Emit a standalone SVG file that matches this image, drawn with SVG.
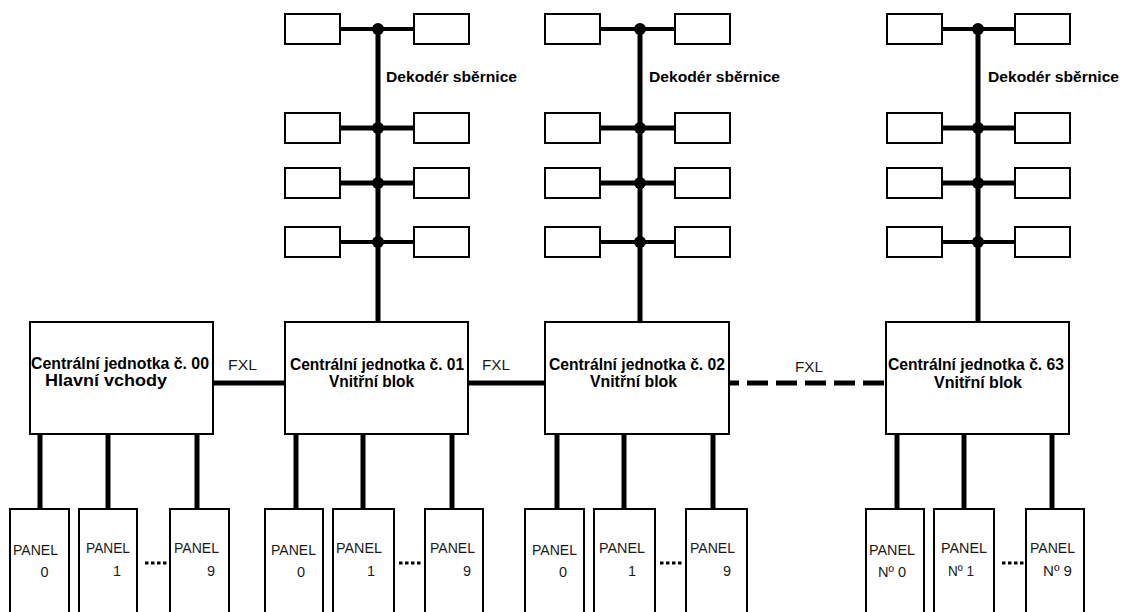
<svg xmlns="http://www.w3.org/2000/svg" width="1123" height="612" viewBox="0 0 1123 612">
<style>
.box{fill:#fff;stroke:#000;stroke-width:2}
.bus{stroke:#000;stroke-width:5;fill:none}
.br{stroke:#000;stroke-width:4;fill:none}
.dot{fill:#000}
.dots{stroke:#000;stroke-width:3;stroke-dasharray:3.5 2.5;fill:none}
.bold{font-family:"Liberation Sans",Arial,sans-serif;font-weight:bold;fill:#000}
.reg{font-family:"Liberation Sans",Arial,sans-serif;fill:#1a1a1a}
.ct{font-size:16px}
.dk{font-size:14.5px}
.pn{font-size:14.5px}
.fx{font-size:15px}
</style>
<rect width="1123" height="612" fill="#fff"/>
<g id="connectors">
  <line class="bus" x1="378" y1="29" x2="378" y2="322"/>
  <line class="bus" x1="640" y1="29" x2="640" y2="322"/>
  <line class="bus" x1="978" y1="29" x2="978" y2="322"/>
  <line class="br" x1="340" y1="29" x2="414" y2="29"/>
  <line class="bus" x1="340" y1="128" x2="414" y2="128"/>
  <line class="bus" x1="340" y1="183" x2="414" y2="183"/>
  <line class="br" x1="340" y1="242" x2="414" y2="242"/>
  <line class="br" x1="600" y1="29" x2="675" y2="29"/>
  <line class="bus" x1="600" y1="128" x2="675" y2="128"/>
  <line class="bus" x1="600" y1="183" x2="675" y2="183"/>
  <line class="br" x1="600" y1="242" x2="675" y2="242"/>
  <line class="br" x1="942" y1="29" x2="1015" y2="29"/>
  <line class="bus" x1="942" y1="128" x2="1015" y2="128"/>
  <line class="bus" x1="942" y1="183" x2="1015" y2="183"/>
  <line class="br" x1="942" y1="242" x2="1015" y2="242"/>
  <circle class="dot" cx="378" cy="29" r="6"/><circle class="dot" cx="378" cy="128" r="6"/><circle class="dot" cx="378" cy="183" r="6"/><circle class="dot" cx="378" cy="242" r="6"/>
  <circle class="dot" cx="640" cy="29" r="6"/><circle class="dot" cx="640" cy="128" r="6"/><circle class="dot" cx="640" cy="183" r="6"/><circle class="dot" cx="640" cy="242" r="6"/>
  <circle class="dot" cx="978" cy="29" r="6"/><circle class="dot" cx="978" cy="128" r="6"/><circle class="dot" cx="978" cy="183" r="6"/><circle class="dot" cx="978" cy="242" r="6"/>
  <line class="bus" x1="213" y1="383" x2="285" y2="383"/>
  <line class="bus" x1="468" y1="383" x2="545" y2="383"/>
  <line class="bus" x1="729" y1="383" x2="886" y2="383" stroke-dasharray="21 8" stroke-dashoffset="11"/>
  <line class="bus" x1="40" y1="434" x2="40" y2="509"/>
  <line class="bus" x1="108" y1="434" x2="108" y2="509"/>
  <line class="bus" x1="197" y1="434" x2="197" y2="509"/>
  <line class="bus" x1="296" y1="434" x2="296" y2="509"/>
  <line class="bus" x1="363" y1="434" x2="363" y2="509"/>
  <line class="bus" x1="452" y1="434" x2="452" y2="509"/>
  <line class="bus" x1="557" y1="434" x2="557" y2="509"/>
  <line class="bus" x1="624" y1="434" x2="624" y2="509"/>
  <line class="bus" x1="713" y1="434" x2="713" y2="509"/>
  <line class="bus" x1="897" y1="434" x2="897" y2="509"/>
  <line class="bus" x1="964" y1="434" x2="964" y2="509"/>
  <line class="bus" x1="1052" y1="434" x2="1052" y2="509"/>
  <line class="dots" x1="145" y1="563" x2="167" y2="563"/>
  <line class="dots" x1="399" y1="563" x2="421" y2="563"/>
  <line class="dots" x1="660" y1="563" x2="682" y2="563"/>
  <line class="dots" x1="1002" y1="563" x2="1024" y2="563"/>
</g>
<g id="fxl-labels">
  <text class="reg fx" x="228" y="370" textLength="29" lengthAdjust="spacingAndGlyphs">FXL</text>
  <text class="reg fx" x="482" y="370" textLength="28" lengthAdjust="spacingAndGlyphs">FXL</text>
  <text class="reg fx" x="795" y="372" textLength="28" lengthAdjust="spacingAndGlyphs">FXL</text>
</g>
<g id="decoder1">
  <rect class="box" x="285" y="14" width="55" height="30"/><rect class="box" x="414" y="14" width="55" height="30"/>
  <rect class="box" x="285" y="113" width="55" height="30"/><rect class="box" x="414" y="113" width="55" height="30"/>
  <rect class="box" x="285" y="168" width="55" height="30"/><rect class="box" x="414" y="168" width="55" height="30"/>
  <rect class="box" x="285" y="227" width="55" height="30"/><rect class="box" x="414" y="227" width="55" height="30"/>
  <text class="bold dk" x="386" y="82" textLength="131" lengthAdjust="spacingAndGlyphs">Dekodér sběrnice</text>
</g>
<g id="decoder2">
  <rect class="box" x="545" y="14" width="55" height="30"/><rect class="box" x="675" y="14" width="55" height="30"/>
  <rect class="box" x="545" y="113" width="55" height="30"/><rect class="box" x="675" y="113" width="55" height="30"/>
  <rect class="box" x="545" y="168" width="55" height="30"/><rect class="box" x="675" y="168" width="55" height="30"/>
  <rect class="box" x="545" y="227" width="55" height="30"/><rect class="box" x="675" y="227" width="55" height="30"/>
  <text class="bold dk" x="649" y="82" textLength="131" lengthAdjust="spacingAndGlyphs">Dekodér sběrnice</text>
</g>
<g id="decoder3">
  <rect class="box" x="887" y="14" width="55" height="30"/><rect class="box" x="1015" y="14" width="55" height="30"/>
  <rect class="box" x="887" y="113" width="55" height="30"/><rect class="box" x="1015" y="113" width="55" height="30"/>
  <rect class="box" x="887" y="168" width="55" height="30"/><rect class="box" x="1015" y="168" width="55" height="30"/>
  <rect class="box" x="887" y="227" width="55" height="30"/><rect class="box" x="1015" y="227" width="55" height="30"/>
  <text class="bold dk" x="988" y="82" textLength="131" lengthAdjust="spacingAndGlyphs">Dekodér sběrnice</text>
</g>
<g id="central00">
  <rect class="box" x="30" y="322" width="183" height="112"/>
  <text class="bold ct" x="31" y="369" textLength="178" lengthAdjust="spacingAndGlyphs">Centrální jednotka č. 00</text>
  <text class="bold ct" x="45" y="386" textLength="122" lengthAdjust="spacingAndGlyphs">Hlavní vchody</text>
</g>
<g id="central01">
  <rect class="box" x="285" y="322" width="183" height="112"/>
  <text class="bold ct" x="290" y="370" textLength="174" lengthAdjust="spacingAndGlyphs">Centrální jednotka č. 01</text>
  <text class="bold ct" x="329" y="387" textLength="85" lengthAdjust="spacingAndGlyphs">Vnitřní blok</text>
</g>
<g id="central02">
  <rect class="box" x="545" y="322" width="184" height="112"/>
  <text class="bold ct" x="549" y="370" textLength="176" lengthAdjust="spacingAndGlyphs">Centrální jednotka č. 02</text>
  <text class="bold ct" x="590" y="387" textLength="87" lengthAdjust="spacingAndGlyphs">Vnitřní blok</text>
</g>
<g id="central63">
  <rect class="box" x="886" y="322" width="183" height="112"/>
  <text class="bold ct" x="888" y="370" textLength="176" lengthAdjust="spacingAndGlyphs">Centrální jednotka č. 63</text>
  <text class="bold ct" x="934" y="388" textLength="88" lengthAdjust="spacingAndGlyphs">Vnitřní blok</text>
</g>
<g id="panel00-0"><rect class="box" x="10" y="509" width="59" height="115"/><text class="reg pn" x="13" y="555" textLength="45" lengthAdjust="spacingAndGlyphs">PANEL</text><text class="reg pn" x="44.5" y="577" text-anchor="middle">0</text></g>
<g id="panel00-1"><rect class="box" x="79" y="509" width="58" height="115"/><text class="reg pn" x="86" y="553" textLength="44" lengthAdjust="spacingAndGlyphs">PANEL</text><text class="reg pn" x="117" y="576" text-anchor="middle">1</text></g>
<g id="panel00-9"><rect class="box" x="170" y="509" width="59" height="115"/><text class="reg pn" x="174" y="553" textLength="45" lengthAdjust="spacingAndGlyphs">PANEL</text><text class="reg pn" x="211" y="576" text-anchor="middle">9</text></g>
<g id="panel01-0"><rect class="box" x="265" y="509" width="58" height="115"/><text class="reg pn" x="271" y="555" textLength="45" lengthAdjust="spacingAndGlyphs">PANEL</text><text class="reg pn" x="301" y="577" text-anchor="middle">0</text></g>
<g id="panel01-1"><rect class="box" x="333" y="509" width="61" height="115"/><text class="reg pn" x="336" y="553" textLength="46" lengthAdjust="spacingAndGlyphs">PANEL</text><text class="reg pn" x="371" y="576" text-anchor="middle">1</text></g>
<g id="panel01-9"><rect class="box" x="425" y="509" width="58" height="115"/><text class="reg pn" x="430" y="553" textLength="45" lengthAdjust="spacingAndGlyphs">PANEL</text><text class="reg pn" x="467" y="576" text-anchor="middle">9</text></g>
<g id="panel02-0"><rect class="box" x="525" y="509" width="59" height="115"/><text class="reg pn" x="532" y="555" textLength="45" lengthAdjust="spacingAndGlyphs">PANEL</text><text class="reg pn" x="563" y="577" text-anchor="middle">0</text></g>
<g id="panel02-1"><rect class="box" x="594" y="509" width="61" height="115"/><text class="reg pn" x="599" y="553" textLength="46" lengthAdjust="spacingAndGlyphs">PANEL</text><text class="reg pn" x="632" y="576" text-anchor="middle">1</text></g>
<g id="panel02-9"><rect class="box" x="686" y="509" width="61" height="115"/><text class="reg pn" x="690" y="553" textLength="45" lengthAdjust="spacingAndGlyphs">PANEL</text><text class="reg pn" x="727" y="576" text-anchor="middle">9</text></g>
<g id="panel63-0"><rect class="box" x="866" y="509" width="58" height="115"/><text class="reg pn" x="869" y="555" textLength="46" lengthAdjust="spacingAndGlyphs">PANEL</text><text class="reg pn" x="878" y="577" textLength="28" lengthAdjust="spacingAndGlyphs">Nº 0</text></g>
<g id="panel63-1"><rect class="box" x="934" y="509" width="60" height="115"/><text class="reg pn" x="941" y="553" textLength="46" lengthAdjust="spacingAndGlyphs">PANEL</text><text class="reg pn" x="948" y="576" textLength="26" lengthAdjust="spacingAndGlyphs">Nº 1</text></g>
<g id="panel63-9"><rect class="box" x="1026" y="509" width="58" height="115"/><text class="reg pn" x="1030" y="553" textLength="45" lengthAdjust="spacingAndGlyphs">PANEL</text><text class="reg pn" x="1043" y="576" textLength="29" lengthAdjust="spacingAndGlyphs">Nº 9</text></g>
</svg>
